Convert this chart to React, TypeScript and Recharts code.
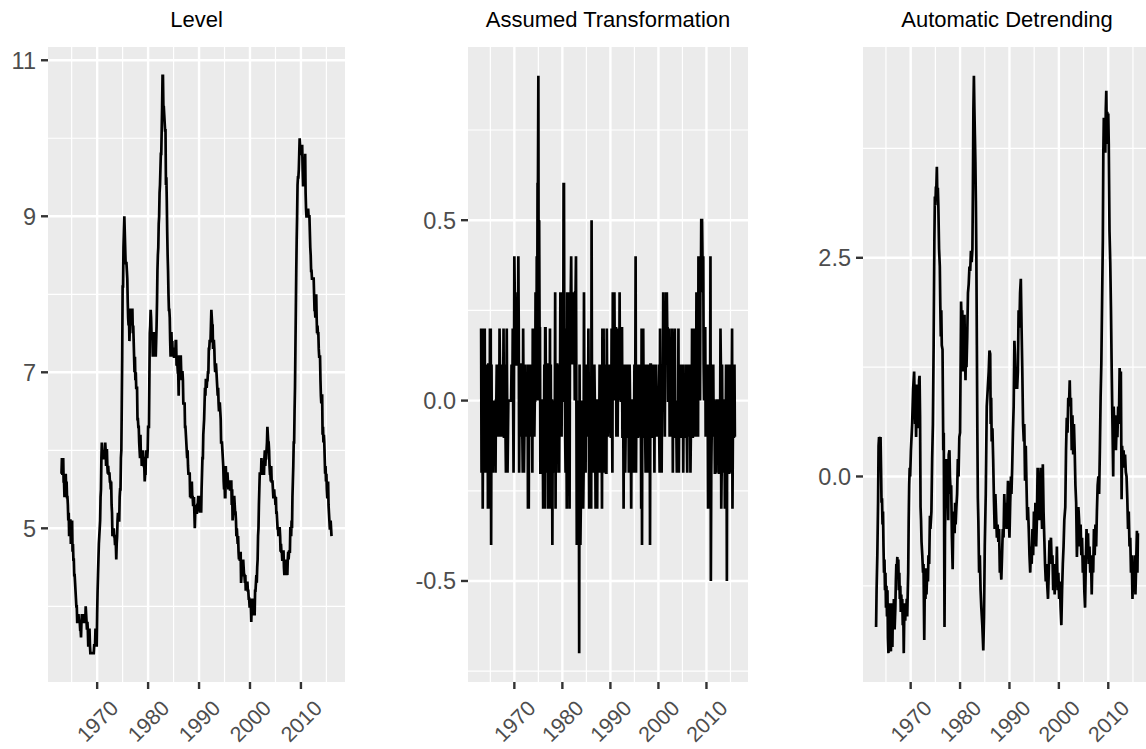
import React from 'react';
import { LineChart, Line, XAxis, YAxis, CartesianGrid } from 'recharts';

const FONT = '"Liberation Sans", Arial, Helvetica, sans-serif';
const START_YEAR = 1963;

// Monthly level, Jan 1963 .. Jan 2016
const unrateLevel = [
  5.7,5.9,5.7,5.7,5.9,5.6,5.6,5.4,5.5,5.5,5.7,5.5, // 1963
  5.6,5.4,5.4,5.3,5.1,5.2,4.9,5.0,5.1,5.1,4.8,5.0, // 1964
  4.9,5.1,4.7,4.8,4.6,4.6,4.4,4.4,4.3,4.2,4.1,4.0, // 1965
  4.0,3.8,3.8,3.8,3.9,3.8,3.8,3.8,3.7,3.7,3.6,3.8, // 1966
  3.9,3.8,3.8,3.8,3.8,3.9,3.8,3.8,3.8,4.0,3.9,3.8, // 1967
  3.7,3.8,3.7,3.5,3.5,3.7,3.7,3.5,3.4,3.4,3.4,3.4, // 1968
  3.4,3.4,3.4,3.4,3.4,3.5,3.5,3.5,3.7,3.7,3.5,3.5, // 1969
  3.9,4.2,4.4,4.6,4.8,4.9,5.0,5.1,5.4,5.5,5.9,6.1, // 1970
  5.9,5.9,6.0,5.9,5.9,5.9,6.0,6.1,6.0,5.8,6.0,6.0, // 1971
  5.8,5.7,5.8,5.7,5.7,5.7,5.6,5.6,5.5,5.6,5.3,5.2, // 1972
  4.9,5.0,4.9,5.0,4.9,4.9,4.8,4.8,4.8,4.6,4.8,4.9, // 1973
  5.1,5.2,5.1,5.1,5.1,5.4,5.5,5.5,5.9,6.0,6.6,7.2, // 1974
  8.1,8.1,8.6,8.8,9.0,8.8,8.6,8.4,8.4,8.4,8.3,8.2, // 1975
  7.9,7.7,7.6,7.7,7.4,7.6,7.8,7.8,7.6,7.7,7.8,7.8, // 1976
  7.5,7.6,7.4,7.2,7.0,7.2,6.9,7.0,6.8,6.8,6.8,6.4, // 1977
  6.4,6.3,6.3,6.1,6.0,5.9,6.2,5.9,6.0,5.8,5.9,6.0, // 1978
  5.9,5.9,5.8,5.8,5.6,5.7,5.7,6.0,5.9,6.0,5.9,6.0, // 1979
  6.3,6.3,6.3,6.9,7.5,7.6,7.8,7.7,7.5,7.5,7.5,7.2, // 1980
  7.5,7.4,7.4,7.2,7.5,7.5,7.2,7.4,7.6,7.9,8.3,8.5, // 1981
  8.6,8.9,9.0,9.3,9.4,9.6,9.8,9.8,10.1,10.4,10.8,10.8, // 1982
  10.4,10.4,10.3,10.2,10.1,10.1,9.4,9.5,9.2,8.8,8.5,8.3, // 1983
  8.0,7.8,7.8,7.7,7.4,7.2,7.5,7.5,7.3,7.4,7.2,7.3, // 1984
  7.3,7.2,7.2,7.3,7.2,7.4,7.4,7.1,7.1,7.1,7.0,7.0, // 1985
  6.7,7.2,7.2,7.1,7.2,7.2,7.0,6.9,7.0,7.0,6.9,6.6, // 1986
  6.6,6.6,6.6,6.3,6.3,6.2,6.1,6.0,5.9,6.0,5.8,5.7, // 1987
  5.7,5.7,5.7,5.4,5.6,5.4,5.4,5.6,5.4,5.4,5.3,5.3, // 1988
  5.4,5.2,5.0,5.2,5.2,5.3,5.2,5.2,5.3,5.3,5.4,5.4, // 1989
  5.4,5.3,5.2,5.4,5.4,5.2,5.5,5.7,5.9,5.9,6.2,6.3, // 1990
  6.4,6.6,6.8,6.7,6.9,6.9,6.8,6.9,6.9,7.0,7.0,7.3, // 1991
  7.3,7.4,7.4,7.4,7.6,7.8,7.7,7.6,7.6,7.3,7.4,7.4, // 1992
  7.3,7.1,7.0,7.1,7.1,7.0,6.9,6.8,6.7,6.8,6.6,6.5, // 1993
  6.6,6.6,6.5,6.4,6.1,6.1,6.1,6.0,5.9,5.8,5.6,5.5, // 1994
  5.6,5.4,5.4,5.8,5.6,5.6,5.7,5.7,5.6,5.5,5.6,5.6, // 1995
  5.6,5.5,5.5,5.6,5.6,5.3,5.5,5.1,5.2,5.2,5.4,5.4, // 1996
  5.3,5.2,5.2,5.1,4.9,5.0,4.9,4.8,4.9,4.7,4.6,4.7, // 1997
  4.6,4.6,4.7,4.3,4.4,4.5,4.5,4.5,4.6,4.5,4.4,4.4, // 1998
  4.3,4.4,4.2,4.3,4.2,4.3,4.3,4.2,4.2,4.1,4.1,4.0, // 1999
  4.0,4.1,4.0,3.8,4.0,4.0,4.0,4.1,3.9,3.9,3.9,3.9, // 2000
  4.2,4.2,4.3,4.4,4.3,4.5,4.6,4.9,5.0,5.3,5.5,5.7, // 2001
  5.7,5.7,5.7,5.9,5.8,5.8,5.8,5.7,5.7,5.7,5.9,6.0, // 2002
  5.8,5.9,5.9,6.0,6.1,6.3,6.2,6.1,6.1,6.0,5.8,5.7, // 2003
  5.7,5.6,5.8,5.6,5.6,5.6,5.5,5.4,5.4,5.5,5.4,5.4, // 2004
  5.3,5.4,5.2,5.2,5.1,5.0,5.0,4.9,5.0,5.0,5.0,4.9, // 2005
  4.7,4.8,4.7,4.7,4.6,4.6,4.7,4.7,4.5,4.4,4.5,4.4, // 2006
  4.6,4.5,4.4,4.5,4.4,4.6,4.7,4.6,4.7,4.7,4.7,5.0, // 2007
  5.0,4.9,5.1,5.0,5.4,5.6,5.8,6.1,6.1,6.5,6.8,7.3, // 2008
  7.8,8.3,8.7,9.0,9.4,9.5,9.5,9.6,9.8,10.0,9.9,9.9, // 2009
  9.8,9.8,9.9,9.9,9.6,9.4,9.4,9.5,9.5,9.4,9.8,9.3, // 2010
  9.1,9.0,9.0,9.1,9.0,9.1,9.0,9.0,9.0,8.8,8.6,8.5, // 2011
  8.3,8.3,8.2,8.2,8.2,8.2,8.2,8.0,7.8,7.8,7.7,7.9, // 2012
  8.0,7.7,7.5,7.6,7.5,7.5,7.3,7.2,7.2,7.2,6.9,6.7, // 2013
  6.6,6.7,6.7,6.2,6.3,6.1,6.2,6.1,5.9,5.7,5.8,5.6, // 2014
  5.7,5.5,5.4,5.4,5.6,5.3,5.2,5.1,5.0,5.0,5.1,5.0, // 2015
  4.9, // 2016
];

// Monthly change, Feb 1963 .. Jan 2016
const unrateChange = [
  0.2,-0.2,0,0.2,-0.3,0,-0.2,0.1,0,0.2,-0.2, // 1963
  0.1,-0.2,0,-0.1,-0.2,0.1,-0.3,0.1,0.1,0,-0.3,0.2, // 1964
  -0.1,0.2,-0.4,0.1,-0.2,0,-0.2,0,-0.1,-0.1,-0.1,-0.1, // 1965
  0,-0.2,0,0,0.1,-0.1,0,0,-0.1,0,-0.1,0.2, // 1966
  0.1,-0.1,0,0,0,0.1,-0.1,0,0,0.2,-0.1,-0.1, // 1967
  -0.1,0.1,-0.1,-0.2,0,0.2,0,-0.2,-0.1,0,0,0, // 1968
  0,0,0,0,0,0.1,0,0,0.2,0,-0.2,0, // 1969
  0.4,0.3,0.2,0.2,0.2,0.1,0.1,0.1,0.3,0.1,0.4,0.2, // 1970
  -0.2,0,0.1,-0.1,0,0,0.1,0.1,-0.1,-0.2,0.2,0, // 1971
  -0.2,-0.1,0.1,-0.1,0,0,-0.1,0,-0.1,0.1,-0.3,-0.1, // 1972
  -0.3,0.1,-0.1,0.1,-0.1,0,-0.1,0,0,-0.2,0.2,0.1, // 1973
  0.2,0.1,-0.1,0,0,0.3,0.1,0,0.4,0.1,0.6,0.6, // 1974
  0.9,0,0.5,0.2,0.2,-0.2,-0.2,-0.2,0,0,-0.1,-0.1, // 1975
  -0.3,-0.2,-0.1,0.1,-0.3,0.2,0.2,0,-0.2,0.1,0.1,0, // 1976
  -0.3,0.1,-0.2,-0.2,-0.2,0.2,-0.3,0.1,-0.2,0,0,-0.4, // 1977
  0,-0.1,0,-0.2,-0.1,-0.1,0.3,-0.3,0.1,-0.2,0.1,0.1, // 1978
  -0.1,0,-0.1,0,-0.2,0.1,0,0.3,-0.1,0.1,-0.1,0.1, // 1979
  0.3,0,0,0.6,0.6,0.1,0.2,-0.1,-0.2,0,0,-0.3, // 1980
  0.3,-0.1,0,-0.2,0.3,0,-0.3,0.2,0.2,0.3,0.4,0.2, // 1981
  0.1,0.3,0.1,0.3,0.1,0.2,0.2,0,0.3,0.3,0.4,0, // 1982
  -0.4,0,-0.1,-0.1,-0.1,0,-0.7,0.1,-0.3,-0.4,-0.3,-0.2, // 1983
  -0.3,-0.2,0,-0.1,-0.3,-0.2,0.3,0,-0.2,0.1,-0.2,0.1, // 1984
  0,-0.1,0,0.1,-0.1,0.2,0,-0.3,0,0,-0.1,0, // 1985
  -0.3,0.5,0,-0.1,0.1,0,-0.2,-0.1,0.1,0,-0.1,-0.3, // 1986
  0,0,0,-0.3,0,-0.1,-0.1,-0.1,-0.1,0.1,-0.2,-0.1, // 1987
  0,0,0,-0.3,0.2,-0.2,0,0.2,-0.2,0,-0.1,0, // 1988
  0.1,-0.2,-0.2,0.2,0,0.1,-0.1,0,0.1,0,0.1,0, // 1989
  0,-0.1,-0.1,0.2,0,-0.2,0.3,0.2,0.2,0,0.3,0.1, // 1990
  0.1,0.2,0.2,-0.1,0.2,0,-0.1,0.1,0,0.1,0,0.3, // 1991
  0,0.1,0,0,0.2,0.2,-0.1,-0.1,0,-0.3,0.1,0, // 1992
  -0.1,-0.2,-0.1,0.1,0,-0.1,-0.1,-0.1,-0.1,0.1,-0.2,-0.1, // 1993
  0.1,0,-0.1,-0.1,-0.3,0,0,-0.1,-0.1,-0.1,-0.2,-0.1, // 1994
  0.1,-0.2,0,0.4,-0.2,0,0.1,0,-0.1,-0.1,0.1,0, // 1995
  0,-0.1,0,0.1,0,-0.3,0.2,-0.4,0.1,0,0.2,0, // 1996
  -0.1,-0.1,0,-0.1,-0.2,0.1,-0.1,-0.1,0.1,-0.2,-0.1,0.1, // 1997
  -0.1,0,0.1,-0.4,0.1,0.1,0,0,0.1,-0.1,-0.1,0, // 1998
  -0.1,0.1,-0.2,0.1,-0.1,0.1,0,-0.1,0,-0.1,0,-0.1, // 1999
  0,0.1,-0.1,-0.2,0.2,0,0,0.1,-0.2,0,0,0, // 2000
  0.3,0,0.1,0.1,-0.1,0.2,0.1,0.3,0.1,0.3,0.2,0.2, // 2001
  0,0,0,0.2,-0.1,0,0,-0.1,0,0,0.2,0.1, // 2002
  -0.2,0.1,0,0.1,0.1,0.2,-0.1,-0.1,0,-0.1,-0.2,-0.1, // 2003
  0,-0.1,0.2,-0.2,0,0,-0.1,-0.1,0,0.1,-0.1,0, // 2004
  -0.1,0.1,-0.2,0,-0.1,-0.1,0,-0.1,0.1,0,0,-0.1, // 2005
  -0.2,0.1,-0.1,0,-0.1,0,0.1,0,-0.2,-0.1,0.1,-0.1, // 2006
  0.2,-0.1,-0.1,0.1,-0.1,0.2,0.1,-0.1,0.1,0,0,0.3, // 2007
  0,-0.1,0.2,-0.1,0.4,0.2,0.2,0.3,0,0.4,0.3,0.5, // 2008
  0.5,0.5,0.4,0.3,0.4,0.1,0,0.1,0.2,0.2,-0.1,0, // 2009
  -0.1,0,0.1,0,-0.3,-0.2,0,0.1,0,-0.1,0.4,-0.5, // 2010
  -0.2,-0.1,0,0.1,-0.1,0.1,-0.1,0,0,-0.2,-0.2,-0.1, // 2011
  -0.2,0,-0.1,0,0,0,0,-0.2,-0.2,0,-0.1,0.2, // 2012
  0.1,-0.3,-0.2,0.1,-0.1,0,-0.2,-0.1,0,0,-0.3,-0.2, // 2013
  -0.1,0.1,0,-0.5,0.1,-0.2,0.1,-0.1,-0.2,-0.2,0.1,-0.2, // 2014
  0.1,-0.2,-0.1,0,0.2,-0.3,-0.1,-0.1,-0.1,0,0.1,-0.1, // 2015
  -0.1, // 2016
];

// Detrended series (time, value)
const detrendTime = [
  1963.0,1963.1,1963.25,1963.4,1963.5,1963.6,1963.75,1963.9,1964.0,1964.1,1964.2,1964.3,1964.4,1964.5,1964.6,1964.7,1964.8,1964.9,
  1965.0,1965.1,1965.2,1965.3,1965.4,1965.5,1965.6,1965.7,1965.8,1965.9,1966.0,1966.1,1966.2,1966.3,1966.4,1966.5,1966.6,1966.75,1966.9,
  1967.0,1967.1,1967.2,1967.3,1967.4,1967.5,1967.6,1967.7,1967.8,1967.9,1968.0,1968.1,1968.2,1968.3,1968.4,1968.5,1968.6,1968.7,1968.8,1968.9,
  1969.0,1969.1,1969.2,1969.3,1969.4,1969.5,1969.6,1969.7,1969.8,1969.9,
  1970.05,1970.3,1970.5,1970.7,1970.8,1970.9,1971.0,1971.1,1971.25,1971.4,1971.5,1971.6,1971.7,1971.8,1971.9,
  1972.0,1972.1,1972.2,1972.35,1972.5,1972.6,1972.75,1972.85,1973.0,1973.1,1973.2,1973.35,1973.5,1973.6,1973.75,1973.9,
  1974.0,1974.2,1974.35,1974.5,1974.65,1974.8,1974.9,1975.0,1975.1,1975.2,1975.3,1975.4,1975.5,1975.6,1975.75,1975.9,
  1976.0,1976.1,1976.2,1976.3,1976.45,1976.6,1976.7,1976.85,1976.95,1977.1,1977.2,1977.35,1977.5,1977.6,1977.7,1977.85,1977.95,
  1978.1,1978.2,1978.35,1978.5,1978.6,1978.75,1978.9,1979.0,1979.1,1979.25,1979.4,1979.55,1979.7,1979.85,
  1980.0,1980.1,1980.2,1980.35,1980.45,1980.55,1980.65,1980.75,1980.9,1981.0,1981.1,1981.2,1981.3,1981.45,1981.6,1981.75,1981.9,
  1982.05,1982.2,1982.35,1982.5,1982.6,1982.7,1982.8,1982.9,1983.0,1983.1,1983.2,1983.3,1983.4,1983.5,1983.6,1983.7,1983.85,
  1984.0,1984.15,1984.3,1984.5,1984.7,1984.85,1985.0,1985.2,1985.4,1985.6,1985.8,1985.95,1986.1,1986.2,1986.3,1986.4,1986.55,1986.7,1986.85,
  1987.0,1987.15,1987.3,1987.45,1987.6,1987.75,1987.9,1988.05,1988.2,1988.35,1988.5,1988.65,1988.8,1988.95,1989.1,1989.25,1989.4,1989.55,1989.7,1989.85,
  1990.0,1990.15,1990.3,1990.4,1990.55,1990.7,1990.85,1991.0,1991.1,1991.25,1991.4,1991.55,1991.7,1991.85,1992.0,1992.15,1992.3,1992.45,1992.6,1992.75,1992.9,
  1993.0,1993.15,1993.3,1993.45,1993.6,1993.75,1993.9,1994.05,1994.2,1994.35,1994.5,1994.65,1994.8,1994.95,1995.1,1995.25,1995.4,1995.55,1995.7,1995.85,
  1996.0,1996.15,1996.3,1996.45,1996.6,1996.75,1996.9,1997.05,1997.2,1997.35,1997.5,1997.65,1997.8,1997.95,1998.1,1998.25,1998.4,1998.55,1998.7,1998.85,
  1999.0,1999.15,1999.3,1999.45,1999.6,1999.75,1999.9,2000.05,2000.2,2000.35,2000.5,2000.65,2000.8,2000.95,2001.1,2001.3,2001.45,2001.6,2001.75,2001.9,
  2002.05,2002.2,2002.3,2002.45,2002.6,2002.75,2002.9,2003.05,2003.2,2003.35,2003.5,2003.65,2003.8,2003.95,2004.1,2004.25,2004.4,2004.55,2004.7,2004.85,
  2005.0,2005.15,2005.3,2005.45,2005.6,2005.75,2005.9,2006.05,2006.2,2006.35,2006.5,2006.65,2006.8,2006.95,2007.1,2007.25,2007.4,2007.55,2007.7,2007.85,
  2008.0,2008.15,2008.3,2008.45,2008.6,2008.75,2008.9,2009.0,2009.1,2009.2,2009.3,2009.4,2009.5,2009.6,2009.7,2009.8,2009.9,
  2010.0,2010.1,2010.25,2010.4,2010.55,2010.7,2010.85,2011.0,2011.1,2011.25,2011.4,2011.55,2011.7,2011.85,2012.0,2012.15,2012.3,2012.45,2012.55,2012.7,2012.8,2012.95,
  2013.1,2013.25,2013.4,2013.55,2013.7,2013.85,2014.0,2014.15,2014.3,2014.45,2014.6,2014.75,2014.9,2015.05,2015.2,2015.35,2015.5,2015.65,2015.8,2015.9,2016.0,
];
const detrendValue = [
  -1.72,-1.3,-0.9,-0.3,0.35,0.45,0.4,0.45,0.1,-0.3,-0.25,-0.55,-0.4,-0.8,-1.1,-0.95,-1.3,-1.1,
  -1.5,-1.25,-1.6,-1.3,-1.85,-2.02,-1.5,-1.95,-1.45,-1.6,-2.0,-1.45,-1.55,-1.95,-1.5,-1.7,-1.4,-1.75,-1.5,
  -1.2,-1.0,-1.05,-0.92,-1.1,-0.95,-1.3,-1.1,-1.4,-1.25,-1.55,-1.35,-1.5,-1.4,-1.7,-1.5,-2.02,-1.6,-1.45,-1.65,
  -1.45,-1.6,-1.4,-1.6,-1.35,-1.1,-0.5,-0.1,0.1,0.0,
  0.3,0.6,1.0,1.2,0.9,0.6,0.85,0.45,1.05,0.8,0.95,0.55,1.1,1.15,0.7,
  -0.35,-0.5,-0.75,-0.9,-1.1,-1.0,-1.87,-1.3,-1.4,-1.05,-1.35,-1.1,-1.2,-0.9,-1.0,-0.45,
  -0.6,-0.4,0.2,0.6,1.5,2.7,3.2,3.1,3.3,3.3,3.54,3.2,3.3,3.1,2.6,2.4,
  1.95,1.6,1.9,1.5,1.45,0.3,0.5,-1.72,-0.6,-0.1,0.2,-0.3,0.1,-0.5,0.25,0.3,0.0,
  -0.2,-0.1,-0.7,-1.06,-0.6,-0.4,-0.65,-0.3,-0.55,-0.35,-0.2,0.2,0.0,0.45,
  0.5,1.2,2.0,1.7,1.9,1.2,1.6,1.3,1.85,1.4,1.1,1.55,1.25,1.6,2.1,2.2,2.4,
  2.35,2.58,2.45,2.6,3.3,4.2,4.58,4.2,3.9,3.6,3.15,2.5,1.5,0.5,-0.25,-0.5,-1.1,
  -0.9,-1.3,-1.5,-1.7,-1.99,-1.6,-0.8,-0.2,0.8,1.0,1.2,1.44,1.4,0.6,0.9,0.4,0.55,0.2,-0.25,
  -0.6,-0.2,-0.45,-0.7,-0.55,-0.75,-0.6,-1.1,-1.0,-1.18,-0.9,-0.6,-0.7,-0.2,-0.5,-0.3,-0.6,-0.4,-0.05,-0.45,
  -0.7,-0.3,0.0,-0.2,0.1,0.5,0.8,1.55,1.4,1.0,1.25,1.0,1.2,1.9,1.7,2.1,2.26,1.7,1.2,0.6,0.4,
  0.6,-0.05,0.35,-0.1,-0.5,-0.35,-0.6,-0.9,-1.1,-0.8,-1.0,-0.6,-0.9,-0.4,-0.7,-0.3,-0.8,-0.5,0.1,-0.3,
  -0.5,-0.2,0.1,-0.3,-0.6,0.14,-0.4,-0.7,-1.0,-1.2,-1.0,-1.25,-1.4,-1.1,-0.73,-0.8,-0.7,-1.0,-0.9,-1.3,
  -1.0,-1.35,-1.0,-1.2,-0.8,-1.3,-1.1,-1.4,-1.2,-1.5,-1.7,-1.3,-1.0,-0.8,-0.5,-0.35,0.3,0.67,0.5,0.9,
  0.8,1.1,0.8,0.9,0.3,0.7,0.25,0.6,0.3,-0.1,-0.3,-0.92,-0.6,-0.35,-0.5,-0.8,-0.55,-0.9,-0.7,-1.1,
  -0.9,-1.3,-1.5,-1.0,-0.6,-0.9,-0.65,-1.0,-0.8,-1.1,-0.9,-1.35,-0.9,-1.1,-0.6,-0.9,-0.55,-0.8,-0.4,-0.1,
  0.0,-0.2,0.3,0.9,1.3,2.0,2.7,3.7,4.1,3.8,4.1,3.7,4.2,4.41,3.9,4.17,3.8,
  4.15,3.8,2.8,2.45,1.9,1.2,0.6,0.0,0.8,0.5,0.7,0.3,0.6,0.45,0.8,0.6,1.24,1.0,1.2,-0.26,0.35,0.2,
  0.3,0.1,0.25,0.05,0.0,-0.25,-0.6,-0.4,-0.8,-0.7,-1.1,-0.9,-1.4,-1.0,-1.3,-0.9,-1.35,-1.0,-0.62,-1.1,-0.65,
];

const panelTitles = ['Level', 'Assumed Transformation', 'Automatic Detrending'];
const yearTicks = [1970, 1980, 1990, 2000, 2010];
const yearMinor = [1965, 1975, 1985, 1995, 2005, 2015];
const levelTicks = [5, 7, 9, 11];
const levelMinor = [4, 6, 8, 10];
const changeTicks = [-0.5, 0, 0.5];
const changeMinor = [-0.75, -0.25, 0.25, 0.75];
const detrendTicks = [0, 2.5];
const detrendMinor = [-1.25, 1.25, 3.75];

const levelData = unrateLevel.map((v, i) => ({ t: START_YEAR + i / 12, v }));
const changeData = unrateChange.map((v, i) => ({ t: START_YEAR + (i + 1) / 12, v }));
const detrendData = detrendTime.map((t, i) => ({ t, v: detrendValue[i] }));

function expand(vals: number[]): [number, number] {
  const lo = Math.min(...vals);
  const hi = Math.max(...vals);
  const pad = (hi - lo) * 0.05;
  return [lo - pad, hi + pad];
}

const xDomain = expand([START_YEAR, START_YEAR + (unrateLevel.length - 1) / 12]);
const Y_TICK_FONT = 23.5;
const X_TICK_FONT = 21.5;

const YearTick = (props: any) => {
  const { x, y, payload } = props;
  return (
    <g transform={`translate(${x + 0.7},${y + 30.5})`}>
      <text
        transform="rotate(-45)"
        textAnchor="middle"
        dominantBaseline="central"
        fill="#4D4D4D"
        fontSize={X_TICK_FONT}
        fontFamily={FONT}
      >
        {payload.value}
      </text>
    </g>
  );
};

type PanelProps = {
  left: number;
  width: number;
  plotLeft: number;
  plotRight: number;
  data: { t: number; v: number }[];
  yTicks: number[];
  yMinor: number[];
  fmt: (v: number) => string;
};

function Panel({ left, width, plotLeft, plotRight, data, yTicks, yMinor, fmt }: PanelProps) {
  const yDomain = expand(data.map((d) => d.v));
  return (
    <div style={{ position: 'absolute', left, top: 0 }}>
      <LineChart
        width={width}
        height={749}
        data={data}
        margin={{ top: 47, right: left + width - plotRight, bottom: 0, left: 0 }}
      >
        <CartesianGrid
          fill="#EBEBEB"
          stroke="#FFFFFF"
          strokeWidth={1.2}
          horizontalValues={yMinor}
          verticalValues={yearMinor}
          syncWithTicks
        />
        <CartesianGrid
          stroke="#FFFFFF"
          strokeWidth={2.4}
          horizontalValues={yTicks}
          verticalValues={yearTicks}
          syncWithTicks
        />
        <XAxis
          dataKey="t"
          type="number"
          domain={xDomain}
          ticks={yearTicks}
          interval={0}
          allowDataOverflow
          height={67}
          tickSize={7}
          tickMargin={2}
          axisLine={false}
          tickLine={{ stroke: '#333333', strokeWidth: 2.4 }}
          tick={<YearTick />}
        />
        <YAxis
          type="number"
          domain={yDomain}
          ticks={yTicks}
          interval={0}
          allowDataOverflow
          width={plotLeft - left}
          tickSize={7}
          tickMargin={5}
          axisLine={false}
          tickLine={{ stroke: '#333333', strokeWidth: 2.4 }}
          tick={{ fill: '#4D4D4D', fontSize: Y_TICK_FONT, fontFamily: FONT }}
          tickFormatter={fmt}
        />
        <Line
          type="linear"
          dataKey="v"
          stroke="#000000"
          strokeWidth={2.7}
          dot={false}
          activeDot={false}
          isAnimationActive={false}
        />
      </LineChart>
    </div>
  );
}

const panels = [
  { left: 0, width: 384, plotLeft: 48, plotRight: 345, data: levelData, yTicks: levelTicks, yMinor: levelMinor, fmt: (v: number) => String(v) },
  { left: 384, width: 384, plotLeft: 468, plotRight: 748, data: changeData, yTicks: changeTicks, yMinor: changeMinor, fmt: (v: number) => v.toFixed(1) },
  { left: 768, width: 400, plotLeft: 863, plotRight: 1151, data: detrendData, yTicks: detrendTicks, yMinor: detrendMinor, fmt: (v: number) => v.toFixed(1) },
];

export default function App() {
  return (
    <div
      style={{
        position: 'absolute',
        left: 0,
        top: 0,
        width: 1146,
        height: 749,
        overflow: 'hidden',
        background: '#FFFFFF',
      }}
    >
      {panels.map((p, i) => (
        <Panel key={i} {...p} />
      ))}
      <svg width={1146} height={749} style={{ position: 'absolute', left: 0, top: 0, pointerEvents: 'none' }}>
        {panels.map((p, i) => (
          <text
            key={i}
            x={(p.plotLeft + p.plotRight) / 2}
            y={27}
            textAnchor="middle"
            fontSize={22}
            fontFamily={FONT}
            fill="#000000"
          >
            {panelTitles[i]}
          </text>
        ))}
      </svg>
    </div>
  );
}
